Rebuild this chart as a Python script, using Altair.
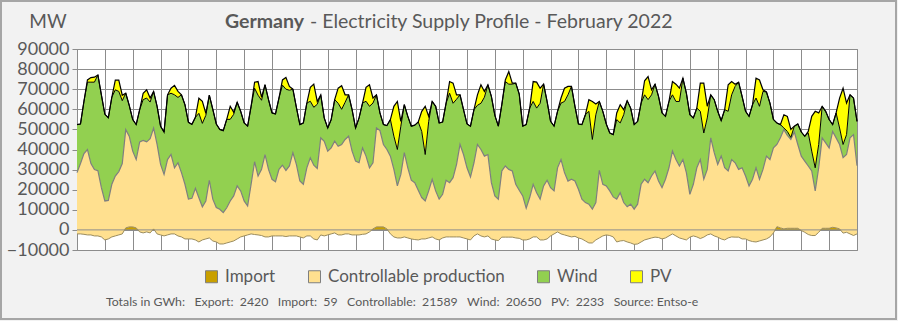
import altair as alt
import pandas as pd

# Germany, February 2022, sampled every 3 hours (00,03,...,21 h) + 1 March 00 h.
# Values in thousands of MW, read from the reference picture.
# Boundaries of the stacked profile:
total_k = [  # top of PV (total supply)
    52.4, 52.7, 64.0, 74.6, 75.8, 76.0, 77.1, 67.2,
    57.5, 55.8, 66.0, 74.5, 74.5, 67.0, 68.0, 62.0,
    54.9, 52.4, 59.8, 68.0, 69.7, 65.6, 68.9, 61.5,
    51.6, 48.7, 67.2, 70.5, 71.9, 68.9, 67.2, 62.3,
    53.5, 52.5, 56.0, 65.5, 64.0, 58.0, 67.0, 60.0,
    52.7, 50.0, 49.4, 55.0, 61.5, 58.5, 63.5, 59.0,
    53.2, 51.6, 61.5, 73.5, 73.8, 66.0, 72.2, 64.8,
    58.2, 57.7, 65.6, 74.6, 75.8, 71.4, 70.0, 61.0,
    52.4, 53.2, 63.1, 70.9, 72.5, 63.9, 67.2, 55.7,
    50.7, 54.9, 64.8, 70.5, 71.7, 67.2, 67.2, 59.8,
    50.7, 55.7, 63.1, 70.9, 72.2, 65.6, 67.2, 58.2,
    52.4, 51.9, 54.9, 61.5, 63.9, 54.0, 62.3, 56.5,
    51.6, 52.1, 53.7, 59.0, 61.5, 56.5, 63.9, 61.5,
    53.2, 53.7, 63.1, 73.8, 73.0, 67.2, 67.2, 59.8,
    52.7, 51.6, 59.8, 67.2, 72.2, 68.9, 72.2, 66.4,
    57.0, 51.6, 62.3, 74.6, 78.8, 73.0, 73.0, 67.6,
    51.6, 52.4, 60.6, 73.8, 73.5, 70.5, 72.5, 63.9,
    54.0, 51.6, 59.0, 65.6, 70.5, 71.4, 71.4, 61.5,
    52.7, 52.4, 57.3, 64.8, 63.9, 62.6, 63.9, 59.0,
    52.7, 48.2, 47.4, 58.2, 62.3, 59.8, 64.3, 60.6,
    52.4, 54.0, 63.1, 74.2, 76.3, 69.7, 72.5, 66.4,
    58.2, 56.5, 63.9, 73.8, 72.5, 70.5, 75.5, 68.0,
    57.3, 55.7, 60.6, 73.0, 73.0, 61.5, 67.2, 64.8,
    59.0, 54.4, 59.8, 72.2, 73.8, 72.5, 73.5, 66.4,
    59.0, 56.5, 62.3, 75.5, 74.6, 69.7, 68.6, 63.1,
    54.9, 53.2, 52.4, 57.3, 56.5, 50.0, 51.6, 52.7,
    48.7, 46.6, 49.0, 56.5, 59.0, 58.2, 61.5, 59.0,
    54.9, 52.4, 58.2, 65.6, 70.5, 63.1, 67.2, 65.6,
    54.0,
]
wind_top_k = [  # top of wind (bottom of PV)
    52.4, 52.7, 64.0, 73.5, 73.5, 73.5, 77.1, 67.2,
    57.5, 55.8, 66.0, 69.7, 68.9, 64.3, 68.0, 62.0,
    54.9, 52.4, 59.8, 64.8, 65.6, 63.6, 68.9, 61.5,
    51.6, 48.7, 67.2, 68.0, 67.2, 65.9, 67.2, 62.3,
    53.5, 52.5, 56.0, 58.0, 53.0, 57.0, 67.0, 60.0,
    52.7, 50.0, 49.4, 55.0, 55.0, 57.5, 63.5, 59.0,
    53.2, 51.6, 61.5, 70.5, 67.0, 64.5, 72.2, 64.8,
    58.2, 57.7, 65.6, 72.0, 70.0, 69.5, 70.0, 61.0,
    52.4, 53.2, 63.1, 64.0, 61.0, 62.5, 67.2, 55.7,
    50.7, 54.9, 64.8, 63.0, 60.0, 63.5, 67.2, 59.8,
    50.7, 55.7, 63.1, 64.0, 61.5, 63.1, 67.2, 58.2,
    52.4, 51.9, 54.9, 46.6, 40.0, 51.6, 62.3, 56.5,
    51.6, 52.1, 53.7, 49.0, 37.5, 54.0, 63.9, 61.5,
    53.2, 53.7, 63.1, 68.0, 63.0, 65.0, 67.2, 59.8,
    52.7, 51.6, 59.8, 62.0, 63.0, 66.0, 72.2, 66.4,
    57.0, 51.6, 62.3, 73.8, 72.5, 72.5, 73.0, 67.6,
    51.6, 52.4, 60.6, 63.9, 60.6, 63.0, 72.5, 63.9,
    54.0, 51.6, 59.0, 63.1, 63.9, 67.2, 71.4, 61.5,
    52.7, 52.4, 57.3, 59.0, 45.0, 57.3, 63.9, 59.0,
    52.7, 48.2, 47.4, 54.9, 53.2, 57.3, 64.3, 60.6,
    52.4, 54.0, 63.1, 67.2, 64.8, 67.2, 72.5, 66.4,
    58.2, 56.5, 63.9, 67.2, 63.9, 63.9, 75.5, 68.0,
    57.3, 55.7, 60.6, 59.0, 48.2, 55.7, 67.2, 64.8,
    59.0, 54.4, 59.8, 59.0, 67.2, 71.4, 73.5, 66.4,
    59.0, 56.5, 62.3, 65.6, 61.5, 68.9, 68.6, 63.1,
    54.9, 53.2, 52.4, 50.7, 49.0, 46.0, 51.6, 52.7,
    48.7, 46.6, 48.2, 39.2, 30.9, 42.5, 61.5, 59.0,
    54.9, 52.4, 58.2, 50.7, 42.5, 47.4, 67.2, 65.6,
    54.0,
]
controllable_top_k = [  # top of controllable production (bottom of wind)
    28.5, 33.0, 38.0, 40.0, 33.0, 30.0, 29.5, 21.0,
    14.4, 14.7, 22.7, 26.8, 29.0, 33.0, 49.9, 46.6,
    39.2, 35.0, 43.8, 44.5, 43.8, 45.4, 50.7, 42.5,
    32.6, 27.6, 35.0, 37.5, 30.9, 33.4, 28.5, 22.7,
    15.3, 15.7, 20.7, 16.0, 11.5, 14.4, 24.7, 15.3,
    11.1, 10.3, 8.6, 11.0, 14.4, 16.9, 21.9, 19.4,
    14.4, 11.9, 22.7, 33.9, 26.8, 30.1, 37.5, 30.1,
    25.2, 24.0, 30.1, 32.2, 29.6, 31.8, 38.4, 32.6,
    24.3, 22.7, 30.9, 35.9, 32.2, 30.6, 45.8, 44.1,
    39.2, 40.8, 44.1, 41.6, 42.5, 45.0, 46.6, 39.2,
    34.2, 33.4, 40.8, 36.7, 30.9, 33.4, 50.7, 49.4,
    42.5, 40.0, 36.7, 30.1, 21.9, 27.6, 38.4, 30.9,
    24.7, 23.5, 19.7, 16.1, 14.4, 19.4, 25.2, 19.4,
    15.3, 17.7, 24.7, 23.5, 26.0, 32.6, 42.5, 37.5,
    30.9, 26.3, 33.4, 42.5, 40.0, 36.7, 37.5, 23.5,
    16.9, 15.3, 29.3, 31.8, 30.1, 29.3, 22.7, 19.7,
    16.9, 10.8, 16.1, 22.7, 18.5, 15.3, 21.9, 24.7,
    21.0, 19.4, 30.9, 35.0, 28.5, 24.3, 25.2, 24.3,
    20.2, 15.3, 13.6, 12.8, 10.3, 13.6, 29.6, 22.7,
    21.9, 19.4, 16.4, 15.3, 18.5, 13.6, 11.5, 12.8,
    10.3, 12.8, 22.7, 25.2, 23.5, 26.8, 29.3, 24.3,
    21.0, 25.2, 30.9, 39.2, 35.0, 31.8, 35.0, 28.5,
    17.7, 22.7, 30.9, 35.0, 25.2, 30.1, 45.8, 38.4,
    32.6, 36.7, 30.9, 29.3, 35.0, 33.4, 30.1, 30.9,
    26.8, 21.9, 25.2, 30.9, 25.2, 30.1, 36.7, 35.0,
    40.8, 42.5, 45.8, 49.9, 47.0, 45.0, 48.7, 42.5,
    36.7, 34.2, 31.8, 29.3, 19.4, 30.9, 45.8, 43.3,
    40.8, 49.0, 45.8, 42.5, 35.9, 37.5, 45.8, 47.4,
    32.0,
]
net_exchange_k = [  # import (+) / export (-)
    -2.0, -2.0, -2.2, -2.5, -2.5, -3.0, -3.0, -3.5,
    -5.0, -4.5, -3.5, -3.0, -2.5, -2.0, 1.0, 1.5,
    1.5, 1.0, -1.0, -1.5, -1.0, -1.5, 0.5, -2.0,
    -2.5, -3.0, -2.5, -2.0, -2.0, -3.0, -3.5, -4.5,
    -4.5, -4.5, -5.0, -6.0, -5.0, -4.5, -4.0, -5.5,
    -6.0, -7.0, -7.0, -6.5, -6.0, -5.5, -4.5, -3.5,
    -3.0, -2.5, -2.0, -2.3, -2.5, -2.8, -3.5, -3.5,
    -3.0, -3.0, -3.0, -3.0, -3.3, -3.0, -3.0, -3.0,
    -3.5, -4.0, -3.0, -3.0, -4.5, -5.0, -2.5, -3.0,
    -2.5, -2.0, -1.5, -2.5, -2.5, -2.0, -2.0, -2.5,
    -2.5, -2.5, -2.2, -2.0, -1.0, 0.5, 1.5, 1.5,
    1.5, 0.5, -2.0, -3.5, -4.0, -4.0, -3.5, -4.0,
    -4.5, -4.8, -5.0, -4.5, -4.5, -4.0, -3.5, -4.5,
    -5.0, -4.0, -3.5, -3.5, -3.5, -3.5, -3.5, -4.0,
    -4.5, -5.0, -3.0, -2.0, -3.0, -3.5, -3.0, -4.5,
    -5.0, -5.3, -3.6, -3.6, -3.6, -3.6, -4.0, -4.2,
    -5.0, -5.0, -4.5, -3.5, -3.5, -5.0, -5.0, -4.5,
    -3.0, -2.0, -1.0, -2.0, -2.5, -3.0, -3.5, -3.2,
    -4.0, -4.5, -5.5, -6.5, -6.5, -5.0, -4.0, -3.0,
    -2.5, -2.8, -3.5, -6.0, -5.5, -5.3, -6.0, -6.5,
    -7.2, -7.0, -6.0, -5.0, -4.5, -4.0, -3.6, -3.8,
    -4.5, -4.0, -3.0, -2.0, -3.0, -4.0, -4.5, -5.0,
    -3.6, -3.0, -3.5, -4.3, -3.6, -2.5, -2.0, -3.0,
    -3.6, -4.5, -5.0, -4.0, -3.5, -3.6, -3.6, -4.5,
    -4.5, -5.3, -5.8, -6.0, -5.5, -5.0, -4.5, -3.5,
    -1.5, 1.6, 1.0, 0.5, 0.8, 0.8, 0.8, 0.8,
    -0.3, -1.2, -2.3, -2.8, -2.8, -1.2, 0.8, 0.8,
    0.8, 1.3, 1.0, 0.5, -1.6, -1.2, -2.0, -2.8,
    -2.0,
]

series_names = ["Import", "Controllable production", "Wind", "PV"]
series_colors = ["#C9A000", "#FFE08F", "#92D050", "#FFFF00"]
totals_labels = ["Export", "Import", "Controllable", "Wind", "PV"]
totals_gwh = [2420, 59, 21589, 20650, 2233]
y_ticks = list(range(-10000, 90001, 10000))
n_days = 28
step_hours = 3

n = len(total_k)
t = [i * step_hours / 24 for i in range(n)]
T = [v * 1000 for v in total_k]
W = [v * 1000 for v in wind_top_k]
C = [v * 1000 for v in controllable_top_k]
N = [v * 1000 for v in net_exchange_k]

wide = pd.DataFrame({"t": t, "total": T, "wind_top": W, "ctrl_top": C, "net": N})

rows = []
for i in range(n):
    rows.append({"t": t[i], "series": "Import", "lo": 0.0, "hi": max(N[i], 0.0)})
    rows.append({"t": t[i], "series": "Controllable production", "lo": N[i], "hi": C[i]})
    rows.append({"t": t[i], "series": "Wind", "lo": C[i], "hi": W[i]})
    rows.append({"t": t[i], "series": "PV", "lo": W[i], "hi": T[i]})
long = pd.DataFrame(rows)

FONT = "Lato"
GREY_TXT = "#595959"
GRID = "#8C8C8C"
NB = "\u00a0"

xscale = alt.Scale(domain=[0, n_days], nice=False, zero=False)
yscale = alt.Scale(domain=[-10000, 90000], nice=False)

x_axis = alt.Axis(values=list(range(n_days + 1)), labels=False, ticks=False,
                  title=None, grid=True, gridColor=GRID, gridWidth=1, domain=False)
y_axis = alt.Axis(values=y_ticks, format="d", title=None, labelFontSize=18,
                  labelColor=GREY_TXT, labelFont=FONT, tickColor=GRID, tickSize=5,
                  gridColor=GRID, gridWidth=1, domainColor=GRID, labelPadding=3,
                  labelOverlap=False)


def X():
    return alt.X("t:Q", scale=xscale, axis=x_axis, title=None)


def Y(field):
    return alt.Y(field, stack=None, scale=yscale, axis=y_axis, title=None)


areas = alt.Chart(long).mark_area(interpolate="linear", opacity=1).encode(
    x=X(),
    y=Y("lo:Q"),
    y2="hi:Q",
    color=alt.Color("series:N",
                    scale=alt.Scale(domain=series_names, range=series_colors),
                    legend=alt.Legend(orient="none", legendX=126, legendY=219,
                                      direction="horizontal", title=None,
                                      labelFontSize=17, labelFont=FONT, labelColor=GREY_TXT,
                                      labelLimit=400,
                                      symbolType="square", symbolSize=144,
                                      symbolStrokeColor="#7F7F7F", symbolStrokeWidth=1,
                                      columnPadding=30, labelOffset=5)),
)

zero_rule = alt.Chart(pd.DataFrame({"z": [0]})).mark_rule(color=GRID, strokeWidth=1).encode(
    y=Y("z:Q"))

base = alt.Chart(wide).encode(x=X())
net_line = base.mark_line(color="#9A8C60", strokeWidth=1).encode(y=Y("net:Q"))
ctrl_line = base.mark_line(color="#7F7F7F", strokeWidth=1.2).encode(y=Y("ctrl_top:Q"))
wind_line = base.mark_line(color="#000000", strokeWidth=1).encode(y=Y("wind_top:Q"))
total_line = base.mark_line(color="#000000", strokeWidth=1.2).encode(y=Y("total:Q"))

one = pd.DataFrame({"a": [0]})
mw_text = alt.Chart(one).mark_text(text="MW", fontSize=19, font=FONT, color=GREY_TXT,
                                   align="center", baseline="middle").encode(
    x=alt.value(-29), y=alt.value(-27))
title_bold = alt.Chart(one).mark_text(text="Germany", fontSize=19.5, font=FONT, fontWeight="bold",
                                      color=GREY_TXT, align="right", baseline="middle").encode(
    x=alt.value(227), y=alt.value(-27))
title_rest = alt.Chart(one).mark_text(text="- Electricity Supply Profile - February 2022",
                                      fontSize=19.5, font=FONT, color=GREY_TXT,
                                      align="left", baseline="middle").encode(
    x=alt.value(233), y=alt.value(-27))

footer_str = ("Totals in GWh:" + NB * 3 + (NB * 3).join(
    f"{k}:{NB * 2}{v}" for k, v in zip(totals_labels, totals_gwh))
    + NB * 3 + "Source: Entso-e")
footer = alt.Chart(one).mark_text(text=footer_str, fontSize=12.3, font=FONT, color=GREY_TXT,
                                  align="left", baseline="middle").encode(
    x=alt.value(29), y=alt.value(253))

frame = alt.Chart(one).mark_rect(fillOpacity=0, stroke="#A6A6A6", strokeWidth=2).encode(
    x=alt.value(-76), x2=alt.value(819), y=alt.value(-48), y2=alt.value(270))

chart = alt.layer(
    areas, zero_rule, net_line, ctrl_line, wind_line, total_line,
    mw_text, title_bold, title_rest, footer, frame,
).properties(
    width=780, height=201,
    padding={"left": 77, "top": 49, "right": 41, "bottom": 71},
    autosize=alt.AutoSizeParams(type="none"),
).configure(
    background="#F2F2F2", font=FONT,
).configure_view(
    fill="white", stroke=GRID, strokeWidth=1,
)

chart.save("out.html", embed_options={"renderer": "svg", "actions": False})
